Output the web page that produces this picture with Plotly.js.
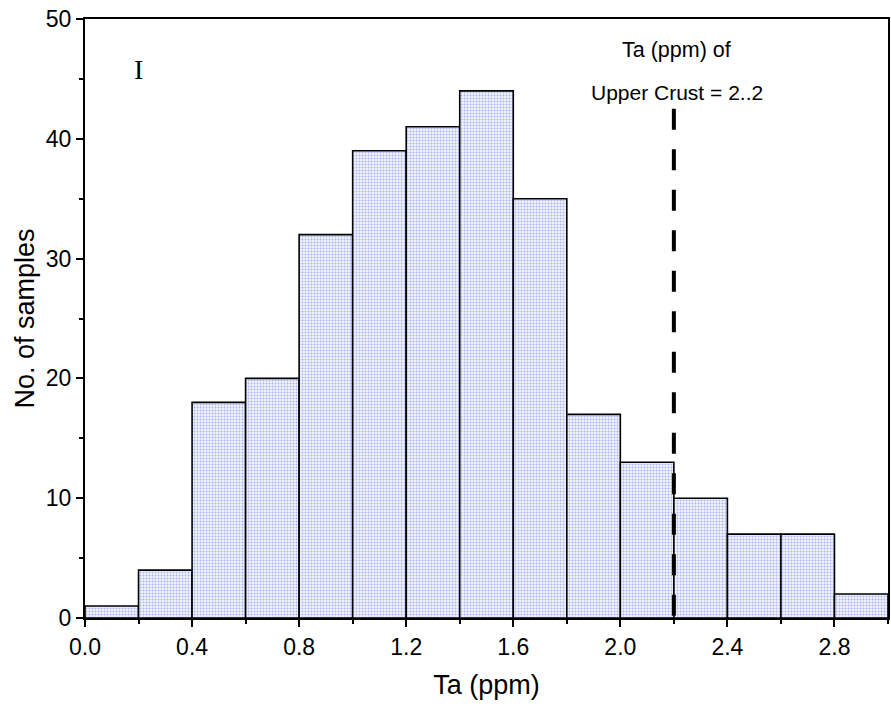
<!DOCTYPE html>
<html>
<head>
<meta charset="utf-8">
<script src="https://cdn.plot.ly/plotly-3.0.1.min.js"></script>
<style>
  html, body { margin: 0; padding: 0; background: #ffffff; }
  #chart { width: 891px; height: 709px; }
</style>
</head>
<body>
<div id="chart"></div>
<script>
// Histogram of Ta (ppm): bin centres (0.2 ppm bins) and sample counts
const binCenters = [0.1, 0.3, 0.5, 0.7, 0.9, 1.1, 1.3, 1.5, 1.7, 1.9, 2.1, 2.3, 2.5, 2.7, 2.9];
const counts     = [1, 4, 18, 20, 32, 39, 41, 44, 35, 17, 13, 10, 7, 7, 2];
const binWidth = 0.2;

// Upper crust reference value and the extent of its marker line (drawn top-down)
const upperCrustTa = 2.2;
const refLineY = [42.5, 0];

const xTickVals = [0.0, 0.4, 0.8, 1.2, 1.6, 2.0, 2.4, 2.8];
const yTickVals = [0, 10, 20, 30, 40, 50];

const bars = {
  type: 'bar',
  x: binCenters,
  y: counts,
  width: binCenters.map(() => binWidth),
  marker: {
    color: '#ffffff',
    line: { color: '#000000', width: 1.6 },
    pattern: { shape: '.', fgcolor: '#a9b5f0', bgcolor: '#f3f4fd', size: 3, solidity: 0.35 }
  },
  hoverinfo: 'x+y',
  showlegend: false
};

const refLine = {
  type: 'scatter',
  mode: 'lines',
  x: [upperCrustTa, upperCrustTa],
  y: refLineY,
  line: { color: '#000000', width: 4, dash: '21px,19.5px' },
  hoverinfo: 'skip',
  showlegend: false
};

const sans = 'Liberation Sans, Arial, sans-serif';
const tickFont = { family: sans, size: 23, color: '#000000' };
const titleFont = { family: sans, size: 27, color: '#000000' };

const layout = {
  width: 891,
  height: 709,
  margin: { l: 85, r: 3, t: 19, b: 91 },
  paper_bgcolor: '#ffffff',
  plot_bgcolor: '#ffffff',
  bargap: 0,
  xaxis: {
    range: [0, 3.0],
    tickvals: xTickVals,
    tickformat: '.1f',
    ticks: 'outside',
    ticklen: 7,
    tickwidth: 2,
    tickcolor: '#000000',
    showline: true,
    linecolor: '#000000',
    linewidth: 2,
    mirror: true,
    showgrid: false,
    zeroline: false,
    tickfont: tickFont,
    minor: { dtick: 0.2, ticks: 'outside', ticklen: 4, tickwidth: 2, tickcolor: '#000000', showgrid: false },
    title: { text: 'Ta (ppm)', font: titleFont, standoff: 17 }
  },
  yaxis: {
    range: [0, 50],
    tickvals: yTickVals,
    ticks: 'outside',
    ticklen: 7,
    tickwidth: 2,
    tickcolor: '#000000',
    showline: true,
    linecolor: '#000000',
    linewidth: 2,
    mirror: true,
    showgrid: false,
    zeroline: false,
    tickfont: tickFont,
    minor: { dtick: 5, ticks: 'outside', ticklen: 4, tickwidth: 2, tickcolor: '#000000', showgrid: false },
    title: { text: 'No. of samples', font: titleFont, standoff: 3 }
  },
  annotations: [
    {
      text: 'I', xref: 'x', yref: 'y', x: 0.2, y: 45.8, showarrow: false,
      font: { family: 'Liberation Serif, Times New Roman, serif', size: 28, color: '#000000' }
    },
    {
      text: 'Ta (ppm) of', xref: 'x', yref: 'y', x: upperCrustTa + 0.01, y: 47.4, showarrow: false,
      font: { family: sans, size: 21.5, color: '#000000' }
    },
    {
      text: 'Upper Crust = 2..2', xref: 'x', yref: 'y', x: upperCrustTa + 0.01, y: 43.9, showarrow: false,
      font: { family: sans, size: 21, color: '#000000' }
    }
  ]
};

Plotly.newPlot('chart', [bars, refLine], layout, { displayModeBar: false, staticPlot: true });
</script>
</body>
</html>
